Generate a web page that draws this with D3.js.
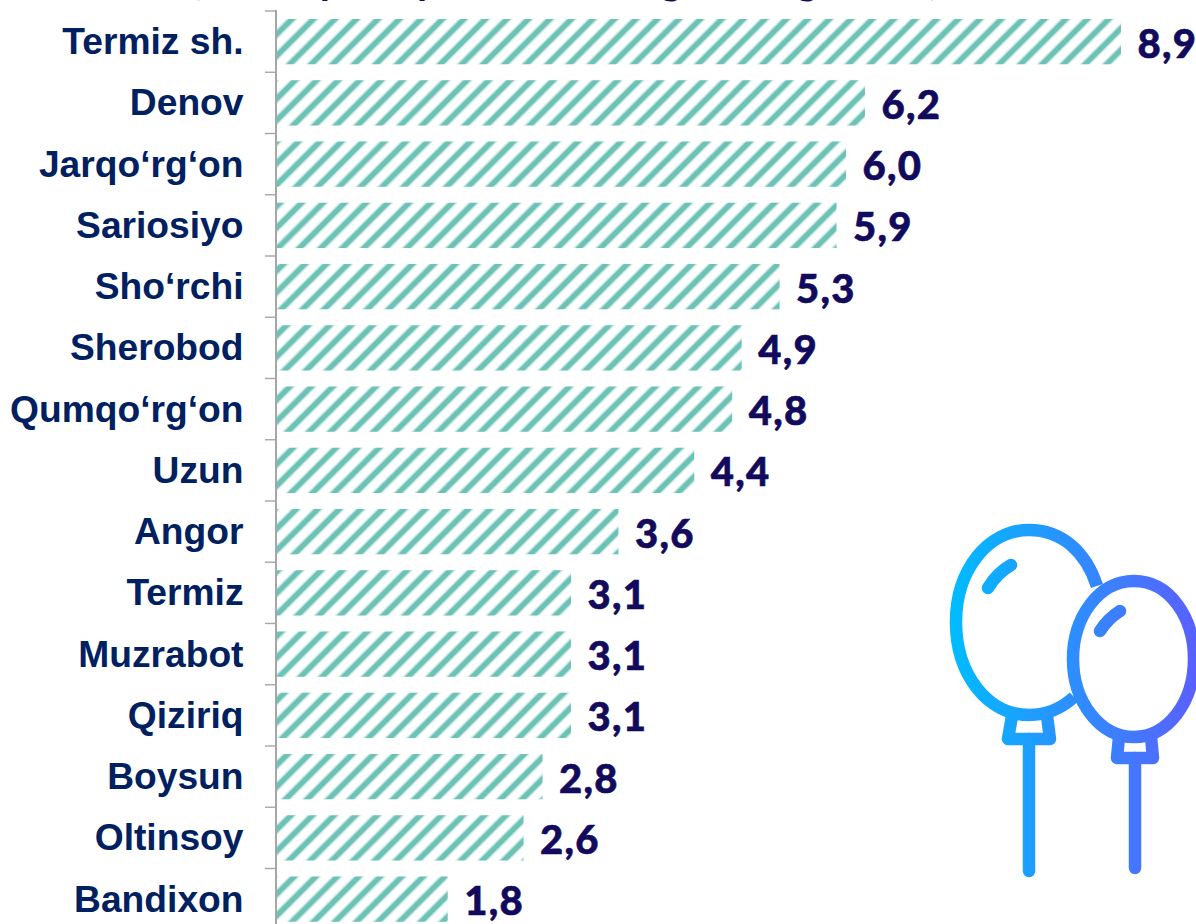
<!DOCTYPE html>
<html>
<head>
<meta charset="utf-8">
<script src="https://cdn.jsdelivr.net/npm/d3@7"></script>
<style>
  html, body { margin: 0; padding: 0; background: #fff; overflow: hidden; }
</style>
</head>
<body>
<div id="visualization"></div>
<script>
// districts, top to bottom
const districts = ["Termiz sh.", "Denov", "Jarqo‘rg‘on", "Sariosiyo", "Sho‘rchi", "Sherobod", "Qumqo‘rg‘on",
  "Uzun", "Angor", "Termiz", "Muzrabot", "Qiziriq", "Boysun", "Oltinsoy", "Bandixon"];
const values = [8.9, 6.2, 6.0, 5.9, 5.3, 4.9, 4.8, 4.4, 3.6, 3.1, 3.1, 3.1, 2.8, 2.6, 1.8];
const valueLabels = ["8,9", "6,2", "6,0", "5,9", "5,3", "4,9", "4,8", "4,4", "3,6", "3,1", "3,1", "3,1", "2,8", "2,6", "1,8"];

const width = 1196, height = 924;
const axisX = 276;

const svg = d3.select("#visualization").append("svg")
  .attr("width", width)
  .attr("height", height)
  .style("display", "block");

const defs = svg.append("defs");

// diagonal hatch for the bars, soft edge like the scaled up original
const hatch = defs.append("pattern")
  .attr("id", "hatch")
  .attr("patternUnits", "userSpaceOnUse")
  .attr("width", 15.2)
  .attr("height", 15.2)
  .attr("patternTransform", "rotate(45)");
hatch.append("rect")
  .attr("x", 3.4).attr("y", 0)
  .attr("width", 7.4).attr("height", 15.2)
  .attr("fill", "#72c4b8").attr("opacity", 0.5);
hatch.append("rect")
  .attr("x", 4.7).attr("y", 0)
  .attr("width", 4.8).attr("height", 15.2)
  .attr("fill", "#6cc2b5");

// gradient of the balloon icon
const grad = defs.append("linearGradient")
  .attr("id", "balloonGrad")
  .attr("gradientUnits", "userSpaceOnUse")
  .attr("x1", 950).attr("y1", 0)
  .attr("x2", 1196).attr("y2", 0);
grad.append("stop").attr("offset", "0").attr("stop-color", "#00bcff");
grad.append("stop").attr("offset", "1").attr("stop-color", "#5a60ff");

// scales
const x = d3.scaleLinear().domain([0, 8.9]).range([axisX + 1, 1121]);
const y = d3.scaleBand().domain(districts).range([11, 11 + 61.25 * districts.length]).paddingInner(0.26).paddingOuter(0.13);

// title line, only its descenders are inside the picture
svg.append("text")
  .attr("x", 192).attr("y", -6)
  .attr("font-family", "Lato")
  .attr("font-weight", "900")
  .attr("font-size", 39)
  .attr("letter-spacing", 1.65)
  .attr("fill", "#120a5c")
  .text("(2024-yil 1-yanvar holatiga, ming nafar)");

// bars
svg.selectAll("rect.bar")
  .data(values)
  .enter()
  .append("rect")
  .attr("class", "bar")
  .attr("x", x(0))
  .attr("y", (d, i) => y(districts[i]))
  .attr("width", d => x(d) - x(0))
  .attr("height", y.bandwidth())
  .attr("fill", "url(#hatch)");

// category axis: grey line with ticks between the bands
const tickPos = d3.range(districts.length + 1).map(i => 11 + i * y.step());
svg.append("line")
  .attr("x1", axisX).attr("x2", axisX)
  .attr("y1", 10).attr("y2", height)
  .attr("stroke", "#a6a6a6").attr("stroke-width", 2);
svg.selectAll("line.tick")
  .data(tickPos)
  .enter()
  .append("line")
  .attr("class", "tick")
  .attr("x1", axisX - 11).attr("x2", axisX)
  .attr("y1", d => d).attr("y2", d => d)
  .attr("stroke", "#a6a6a6").attr("stroke-width", 1.4);

// district names
svg.selectAll("text.name")
  .data(districts)
  .enter()
  .append("text")
  .attr("class", "name")
  .attr("x", 243.5)
  .attr("y", d => y(d) + y.bandwidth() / 2 + 12.5)
  .attr("text-anchor", "end")
  .attr("font-family", "Liberation Sans")
  .attr("font-weight", "bold")
  .attr("font-size", 37.2)
  .attr("fill", "#002060")
  .text(d => d);

// value labels
svg.selectAll("text.value")
  .data(values)
  .enter()
  .append("text")
  .attr("class", "value")
  .attr("x", d => x(d) + 16.5)
  .attr("y", (d, i) => y(districts[i]) + y.bandwidth() / 2 + 16)
  .attr("font-family", "Lato")
  .attr("font-weight", "900")
  .attr("font-size", 40)
  .attr("letter-spacing", 1.3)
  .attr("fill", "#120a5c")
  .attr("stroke", "#120a5c")
  .attr("stroke-width", 0.6)
  .text((d, i) => valueLabels[i]);

// balloon icon
const icon = svg.append("g")
  .attr("fill", "none")
  .attr("stroke", "url(#balloonGrad)")
  .attr("stroke-width", 12.5)
  .attr("stroke-linecap", "round")
  .attr("stroke-linejoin", "round");

// big balloon is cut where the small one overlaps it, so flat ends here
icon.append("path").attr("stroke-linecap", "butt")
  .attr("d", "M1097 586 C1086 552 1062 530 1029 530 C987 530 956 571 956 622 C956 675 988 715 1029 715 C1047 715 1062 708 1074 697");
icon.append("path").attr("d", "M988 588 C994 578 1002 570 1011 565");
icon.append("path").attr("d", "M1134 581 C1098 581 1073 618 1073 659 C1073 702 1100 737 1134 737 C1168 737 1194 702 1194 659 C1194 618 1170 581 1134 581 Z");
icon.append("path").attr("d", "M1100 631 C1105 623 1112 616 1120 611");
icon.append("path").attr("d", "M1012 716 L1008 739 L1050 739 L1047 716");
icon.append("path").attr("d", "M1029 739 L1029 871");
icon.append("path").attr("d", "M1119 737 L1117 758 L1153 758 L1151 737");
icon.append("path").attr("d", "M1135 758 L1135 868");
</script>
</body>
</html>
